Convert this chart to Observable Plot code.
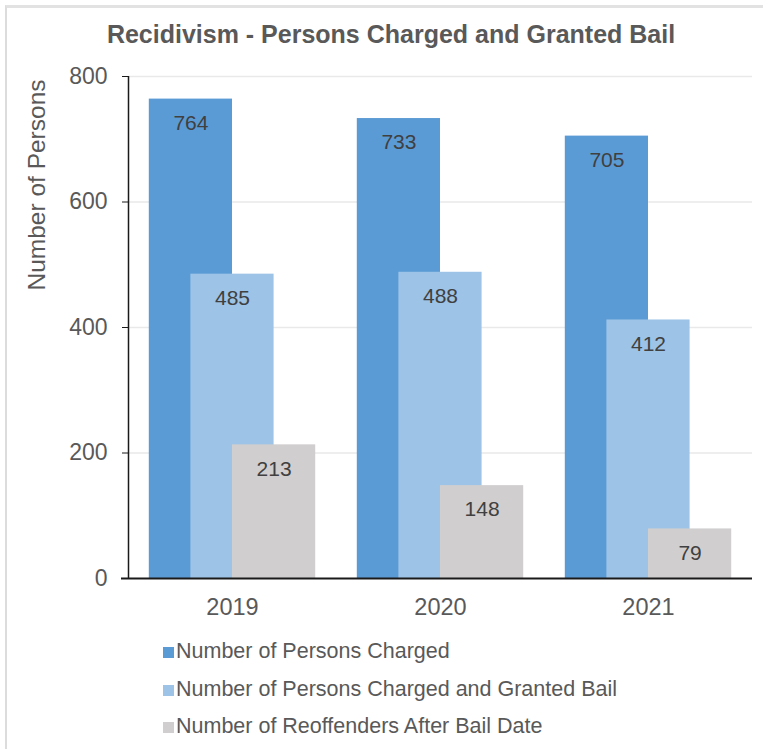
<!DOCTYPE html>
<html>
<head>
<meta charset="utf-8">
<script src="https://cdn.jsdelivr.net/npm/d3@7"></script>
<script src="https://cdn.jsdelivr.net/npm/@observablehq/plot@0.6"></script>
<style>
  html, body { margin: 0; padding: 0; background: #fff; overflow: hidden; }
  #page { position: relative; width: 763px; height: 749px; font-family: "Liberation Sans", Arial, sans-serif; }
  #frame { position: absolute; left: 5px; top: 5px; width: 760px; height: 750px; border-left: 2px solid #dcdcdc; border-top: 3px solid #e2e2e2; }
  #title { position: absolute; left: 91px; width: 600px; top: 19px; text-align: center; font-size: 25px; line-height: 30px; font-weight: bold; color: #595959; }
  #ytitle { position: absolute; left: -113px; top: 170px; width: 300px; height: 30px; line-height: 30px; text-align: center; font-size: 24.5px; color: #595959; transform: rotate(-90deg); }
  #chart { position: absolute; left: 0; top: 60px; }
  .leg { position: absolute; left: 163px; height: 30px; line-height: 30px; font-size: 21.5px; color: #595959; white-space: nowrap; }
  .sw { display: inline-block; width: 11px; height: 11px; margin-right: 2px; vertical-align: 0px; }
</style>
</head>
<body>
<div id="page">
  <div id="frame"></div>
  <div id="title">Recidivism - Persons Charged and Granted Bail</div>
  <div id="ytitle">Number of Persons</div>
  <div id="chart"></div>
  <div id="legend"></div>
</div>
<script>
const years = ["2019", "2020", "2021"];
const seriesNames = [
  "Number of Persons Charged",
  "Number of Persons Charged and Granted Bail",
  "Number of Reoffenders After Bail Date"
];
const charged = [764, 733, 705];
const grantedBail = [485, 488, 412];
const reoffenders = [213, 148, 79];
const yTicks = [0, 200, 400, 600, 800];
const colors = ["#5B9BD5", "#9DC3E6", "#D0CECE"];

const seriesValues = [charged, grantedBail, reoffenders];
const rows = [];
seriesNames.forEach((s, j) => {
  years.forEach((yr, i) => {
    rows.push({year: yr, series: s, i, j, value: seriesValues[j][i]});
  });
});

const chart = Plot.plot({
  width: 763,
  height: 565,
  marginLeft: 128,
  marginRight: 11,
  marginTop: 16,
  marginBottom: 47,
  style: {fontFamily: "'Liberation Sans', Arial, sans-serif", background: "transparent", overflow: "visible", color: "#595959"},
  x: {domain: [-0.5, years.length * 5 - 0.5]},
  y: {domain: [0, 800]},
  color: {domain: seriesNames, range: colors},
  marks: [
    Plot.gridY(yTicks.filter(t => t > 0), {stroke: "#e9e9e9", strokeOpacity: 1, strokeWidth: 1.5}),
    Plot.rectY(rows, {
      x1: d => d.i * 5 + d.j,
      x2: d => d.i * 5 + d.j + 2,
      y1: 0,
      y2: "value",
      fill: "series"
    }),
    Plot.text(rows, {
      x: d => d.i * 5 + d.j + 1,
      y: "value",
      text: d => String(d.value),
      dy: 24,
      fontSize: 21,
      fill: "#404040"
    }),
    Plot.ruleX([-0.5], {stroke: "#1a1a1a", strokeWidth: 1.5}),
    Plot.ruleY([0], {stroke: "#1a1a1a", strokeWidth: 2, insetLeft: -7}),
    Plot.axisY({ticks: yTicks, tickSize: 6, tickPadding: 15, fontSize: 23, stroke: "#1a1a1a", fill: "#595959", label: null}),
    Plot.axisX({ticks: years.map((_, i) => i * 5 + 2), tickFormat: t => years[Math.round((t - 2) / 5)], tickSize: 0, tickPadding: 20, fontSize: 23.5, fill: "#595959", label: null})
  ]
});
document.getElementById("chart").appendChild(chart);

const legend = document.getElementById("legend");
const legendTops = [636, 674, 711];
seriesNames.forEach((s, j) => {
  const div = document.createElement("div");
  div.className = "leg";
  div.style.top = legendTops[j] + "px";
  const sw = document.createElement("span");
  sw.className = "sw";
  sw.style.background = colors[j];
  div.appendChild(sw);
  div.appendChild(document.createTextNode(s));
  legend.appendChild(div);
});
</script>
</body>
</html>
